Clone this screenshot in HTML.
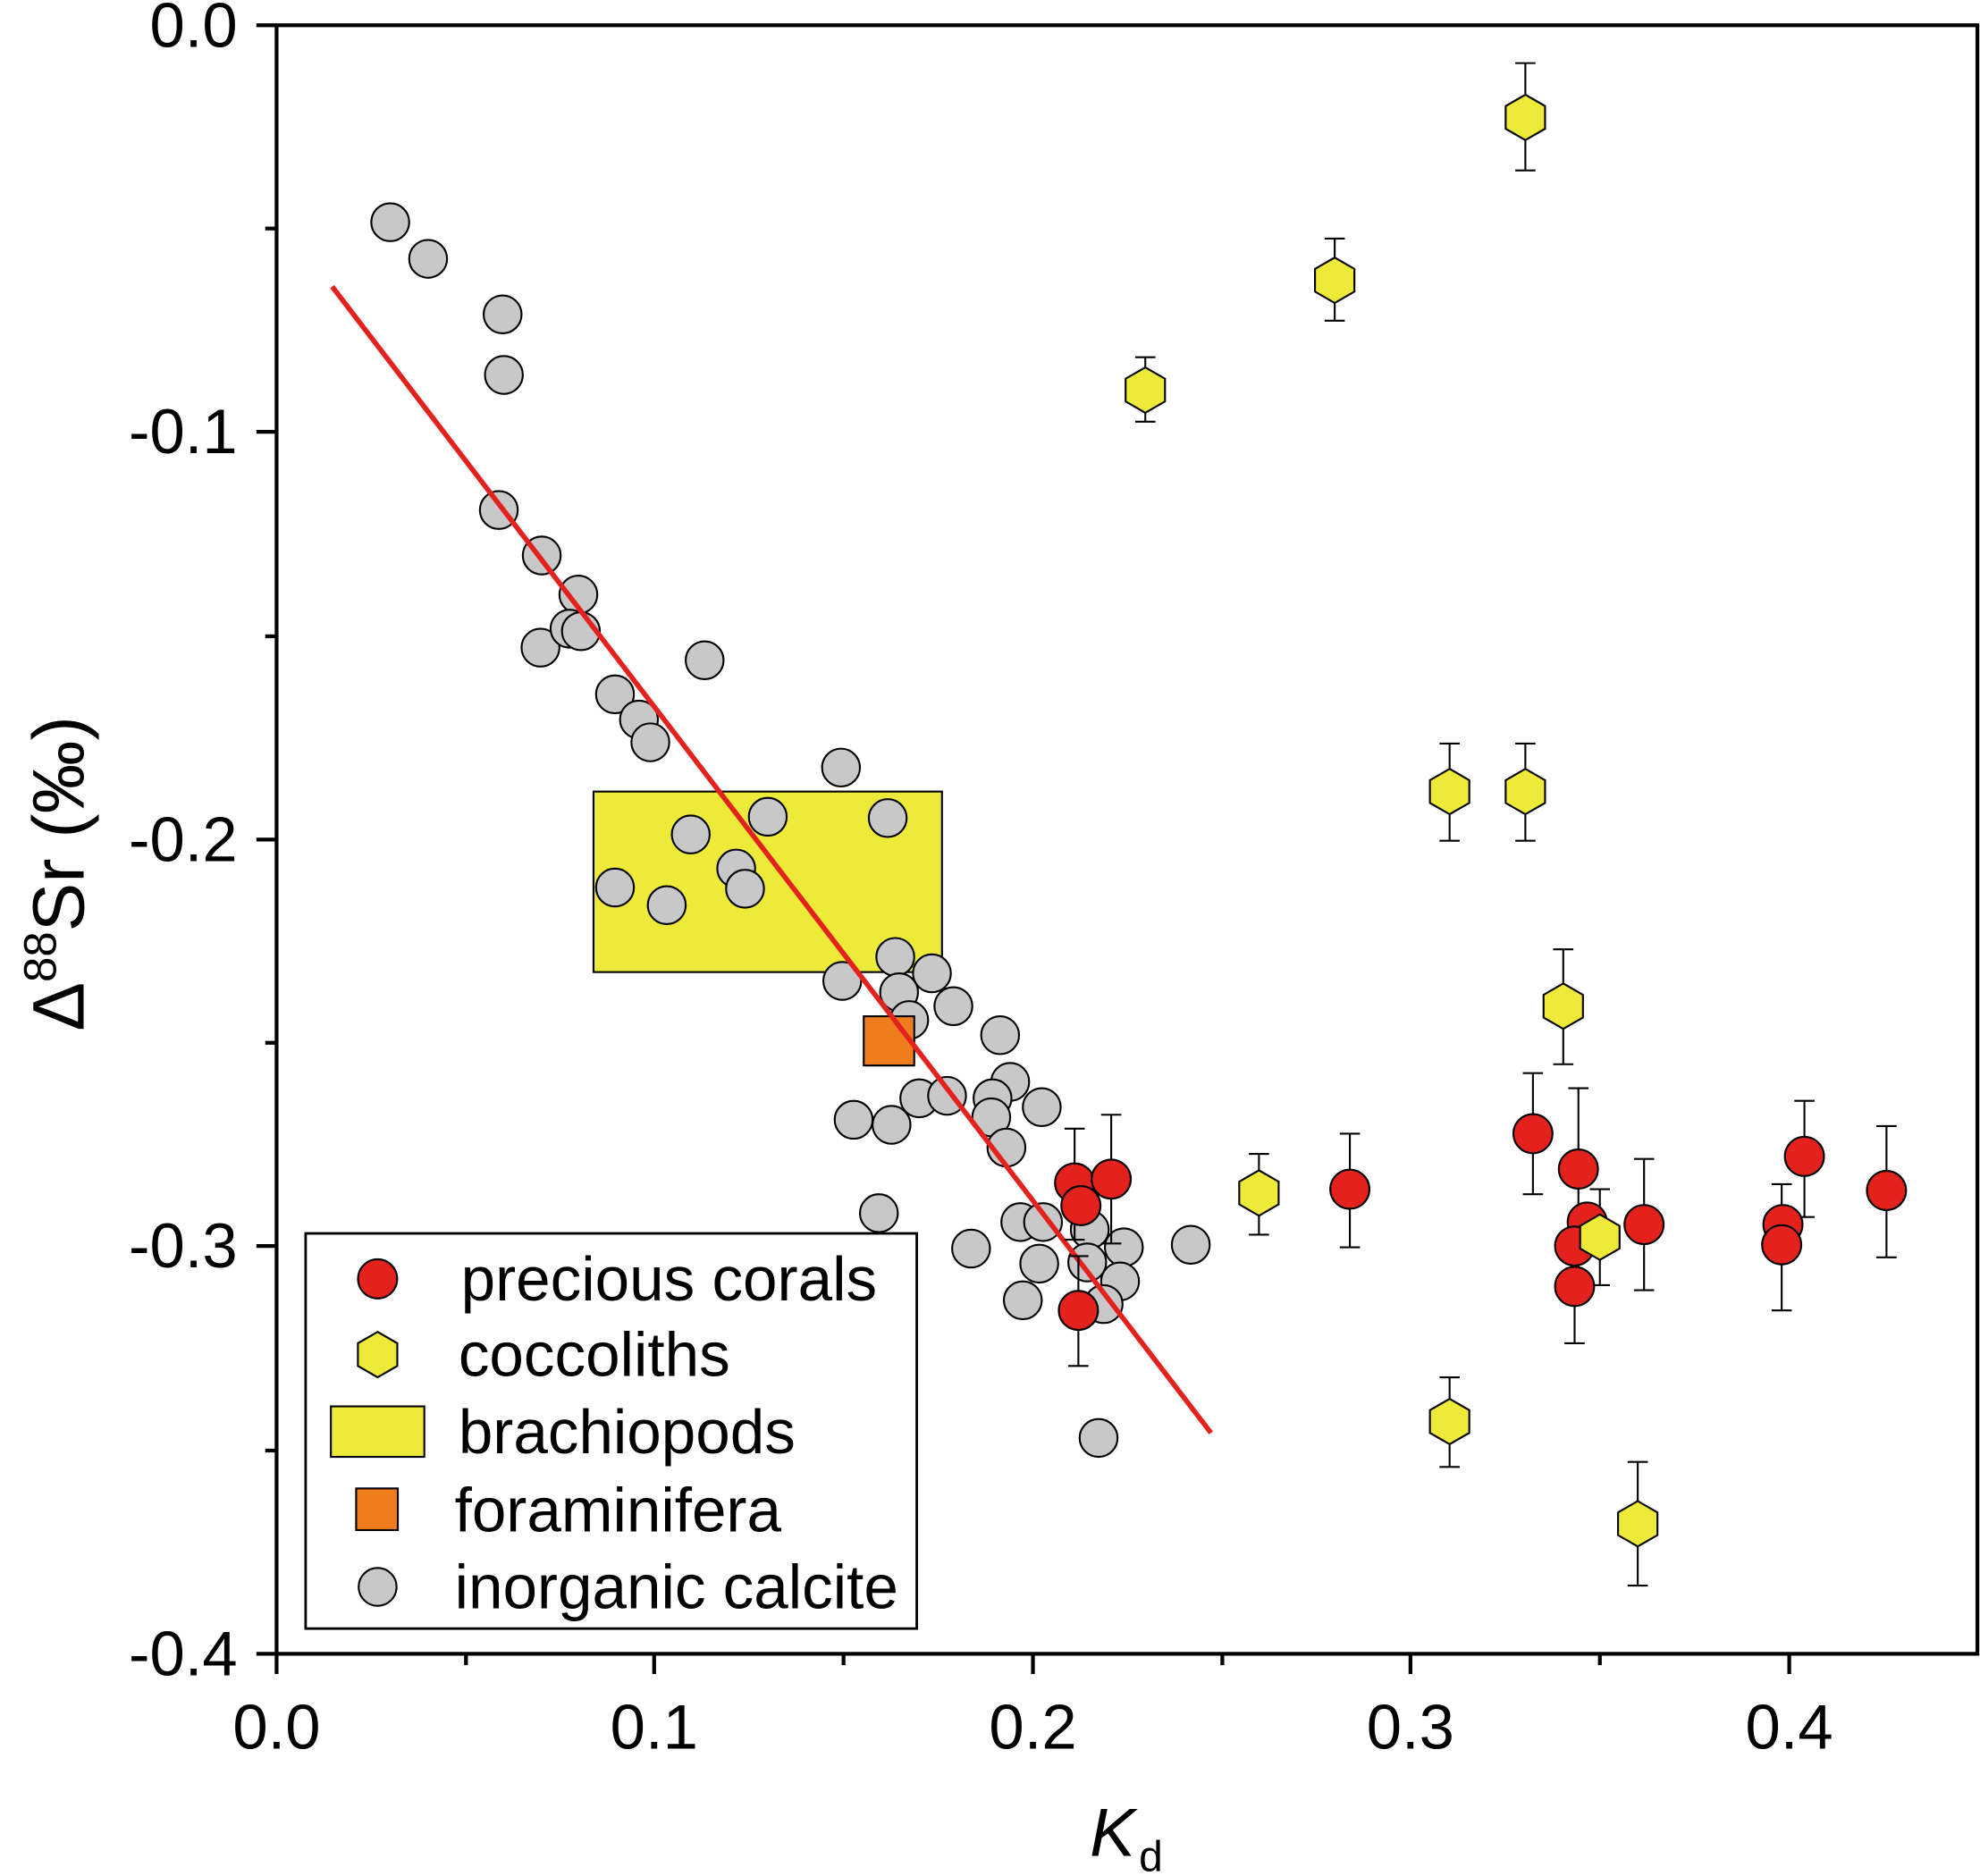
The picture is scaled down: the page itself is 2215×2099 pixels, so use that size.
<!DOCTYPE html>
<html><head><meta charset="utf-8"><style>html,body{margin:0;padding:0;background:#fff}svg{display:block}</style></head>
<body>
<svg width="2215" height="2099" viewBox="0 0 1568 1486" xmlns="http://www.w3.org/2000/svg" font-family="Liberation Sans, Arial, sans-serif">
<defs>
<g id="c"><circle r="15" fill="#c8c8c8" stroke="#000" stroke-width="1.5"/></g>
<g id="r"><circle r="15.5" fill="#e3221e" stroke="#000" stroke-width="1.5"/></g>
<g id="h"><polygon points="0,-18 15.6,-9 15.6,9 0,18 -15.6,9 -15.6,-9" fill="#eeea3a" stroke="#000" stroke-width="1.5"/></g>
</defs>
<rect x="219" y="20" width="1347" height="1290" fill="none" stroke="#000" stroke-width="3"/>
<g stroke="#000" stroke-width="3">
<line x1="219" y1="1310" x2="219" y2="1326"/><line x1="518" y1="1310" x2="518" y2="1326"/><line x1="818" y1="1310" x2="818" y2="1326"/><line x1="1117" y1="1310" x2="1117" y2="1326"/><line x1="1417" y1="1310" x2="1417" y2="1326"/>
<line x1="369" y1="1310" x2="369" y2="1319"/><line x1="668" y1="1310" x2="668" y2="1319"/><line x1="968" y1="1310" x2="968" y2="1319"/><line x1="1267" y1="1310" x2="1267" y2="1319"/>
<line x1="203" y1="20" x2="219" y2="20"/><line x1="203" y1="342" x2="219" y2="342"/><line x1="203" y1="665" x2="219" y2="665"/><line x1="203" y1="987" x2="219" y2="987"/><line x1="203" y1="1310" x2="219" y2="1310"/>
<line x1="210" y1="181" x2="219" y2="181"/><line x1="210" y1="504" x2="219" y2="504"/><line x1="210" y1="826" x2="219" y2="826"/><line x1="210" y1="1149" x2="219" y2="1149"/>
</g>
<g font-size="50" text-anchor="middle">
<text x="219" y="1385">0.0</text><text x="518" y="1385">0.1</text><text x="818" y="1385">0.2</text><text x="1117" y="1385">0.3</text><text x="1417" y="1385">0.4</text>
</g>
<g font-size="50" text-anchor="end">
<text x="188" y="37">0.0</text><text x="188" y="359">-0.1</text><text x="188" y="682">-0.2</text><text x="188" y="1004">-0.3</text><text x="188" y="1327">-0.4</text>
</g>
<text x="863" y="1470" font-size="54" font-style="italic">K</text><text x="902" y="1482" font-size="34">d</text>
<text transform="translate(66,692) rotate(-90)" font-size="58" text-anchor="middle">Δ<tspan font-size="36" dy="-22">88</tspan><tspan dy="22">Sr (‰)</tspan></text>
<rect x="470" y="627" width="276" height="143" fill="#eeea3a" stroke="#000" stroke-width="1.5"/>
<g>
<use href="#c" x="309" y="176"/><use href="#c" x="339" y="205"/><use href="#c" x="398" y="249"/><use href="#c" x="399" y="297"/><use href="#c" x="395" y="404"/><use href="#c" x="429" y="440"/><use href="#c" x="458" y="471"/><use href="#c" x="428" y="513"/><use href="#c" x="451" y="498"/><use href="#c" x="460" y="500"/><use href="#c" x="487" y="550"/><use href="#c" x="506" y="570"/><use href="#c" x="515" y="588"/><use href="#c" x="558" y="523"/><use href="#c" x="666" y="608"/><use href="#c" x="547" y="661"/><use href="#c" x="583" y="688"/><use href="#c" x="590" y="704"/><use href="#c" x="528" y="717"/><use href="#c" x="487" y="703"/><use href="#c" x="608" y="647"/><use href="#c" x="703" y="648"/><use href="#c" x="709" y="758"/><use href="#c" x="738" y="771"/><use href="#c" x="712" y="786"/><use href="#c" x="720" y="808"/><use href="#c" x="755" y="797"/><use href="#c" x="667" y="777"/><use href="#c" x="676" y="887"/><use href="#c" x="706" y="891"/><use href="#c" x="728" y="870"/><use href="#c" x="750" y="868"/><use href="#c" x="792" y="820"/><use href="#c" x="800" y="857"/><use href="#c" x="786" y="870"/><use href="#c" x="785" y="885"/><use href="#c" x="797" y="909"/><use href="#c" x="825" y="877"/><use href="#c" x="696" y="961"/><use href="#c" x="769" y="989"/><use href="#c" x="808" y="968"/><use href="#c" x="826" y="968"/><use href="#c" x="823" y="1001"/><use href="#c" x="810" y="1030"/><use href="#c" x="863" y="974"/><use href="#c" x="890" y="988"/><use href="#c" x="887" y="1015"/><use href="#c" x="874" y="1033"/><use href="#c" x="943" y="986"/><use href="#c" x="870" y="1139"/><use href="#c" x="861" y="1000"/>
</g>
<rect x="684" y="805" width="40" height="39" fill="#ef7d1e" stroke="#000" stroke-width="1.5"/>
<line x1="263" y1="227" x2="959" y2="1135" stroke="#e3221e" stroke-width="4"/>
<g stroke="#000" stroke-width="1.5">
<path d="M851,894V982M843,894H859M843,982H859"/><path d="M880,883V985M872,883H888M872,985H888"/><path d="M854,995V1082M846,995H862M846,1082H862"/><path d="M1069,898V988M1061,898H1077M1061,988H1077"/><path d="M1214,850V946M1206,850H1222M1206,946H1222"/><path d="M1250,862V1010M1242,862H1258"/><path d="M1247,1019V1064M1239,1064H1255"/><path d="M1302,918V1022M1294,918H1310M1294,1022H1310"/><path d="M1411,938V1038M1403,938H1419M1403,1038H1419"/><path d="M1429,872V964M1421,872H1437M1421,964H1437"/><path d="M1494,892V996M1486,892H1502M1486,996H1502"/>
<path d="M1208,50V135M1200,50H1216M1200,135H1216"/><path d="M1057,189V254M1049,189H1065M1049,254H1065"/><path d="M907,283V334M899,283H915M899,334H915"/><path d="M1148,589V666M1140,589H1156M1140,666H1156"/><path d="M1208,589V666M1200,589H1216M1200,666H1216"/><path d="M1238,752V843M1230,752H1246M1230,843H1246"/><path d="M997,914V978M989,914H1005M989,978H1005"/><path d="M1267,942V1018M1259,942H1275M1259,1018H1275"/><path d="M1148,1091V1162M1140,1091H1156M1140,1162H1156"/><path d="M1297,1158V1256M1289,1158H1305M1289,1256H1305"/>
</g>
<g>
<use href="#r" x="851" y="937"/><use href="#r" x="856" y="955"/><use href="#r" x="880" y="934"/><use href="#r" x="854" y="1038"/><use href="#r" x="1069" y="942"/><use href="#r" x="1214" y="898"/><use href="#r" x="1250" y="926"/><use href="#r" x="1257" y="968"/><use href="#r" x="1247" y="987"/><use href="#r" x="1247" y="1019"/><use href="#r" x="1302" y="970"/><use href="#r" x="1412" y="970"/><use href="#r" x="1411" y="986"/><use href="#r" x="1429" y="916"/><use href="#r" x="1494" y="943"/>
</g>
<g>
<use href="#h" x="1208" y="93"/><use href="#h" x="1057" y="222"/><use href="#h" x="907" y="309"/><use href="#h" x="1148" y="627"/><use href="#h" x="1208" y="627"/><use href="#h" x="1238" y="797"/><use href="#h" x="997" y="945"/><use href="#h" x="1267" y="980"/><use href="#h" x="1148" y="1126"/><use href="#h" x="1297" y="1207"/>
</g>
<rect x="242" y="977" width="484" height="313" fill="#fff" stroke="#000" stroke-width="2"/>
<use href="#r" x="299" y="1013"/><use href="#h" x="299" y="1073"/>
<rect x="262" y="1114" width="74" height="40" fill="#eeea3a" stroke="#000" stroke-width="1.5"/>
<rect x="282" y="1179" width="33" height="33" fill="#ef7d1e" stroke="#000" stroke-width="1.5"/>
<use href="#c" x="299" y="1257"/>
<g font-size="49">
<text x="365" y="1030">precious corals</text><text x="363" y="1090">coccoliths</text><text x="363" y="1151">brachiopods</text><text x="360" y="1213">foraminifera</text><text x="360" y="1274">inorganic calcite</text>
</g>
</svg>
</body></html>
